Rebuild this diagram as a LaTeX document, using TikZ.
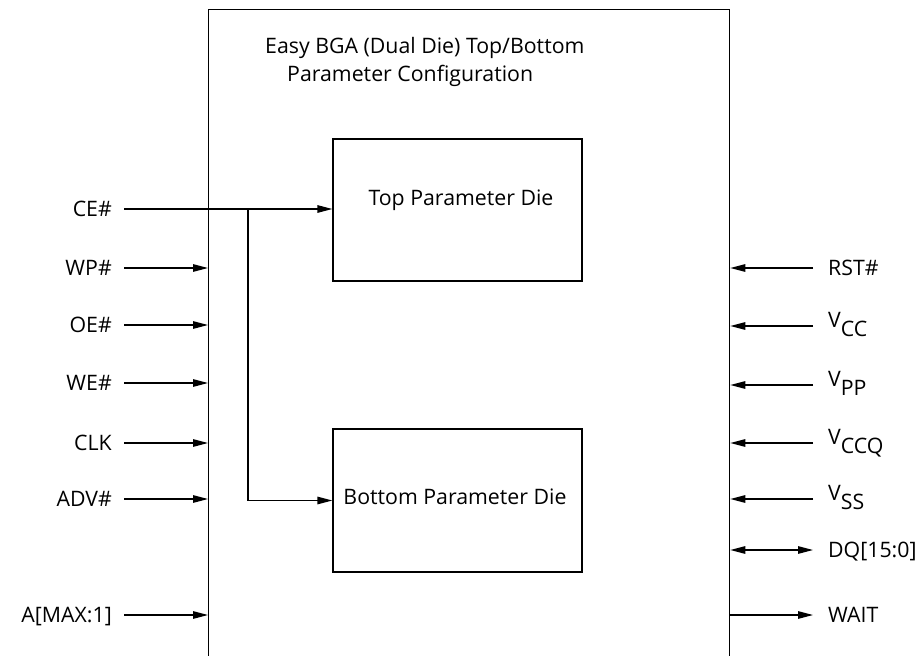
\documentclass[tikz,border=0pt]{standalone}
\usepackage{fontspec}
\setmainfont{Open Sans}
\usetikzlibrary{arrows.meta}
\begin{document}
\begin{tikzpicture}[x=1pt,y=-1pt,
  every node/.style={font=\fontsize{21.3}{25}\selectfont},
  lbl/.style={inner sep=0pt, text height=15.2pt, text depth=0pt},
  box/.style={draw, line width=1.3pt, inner sep=0pt},
  wire/.style={line width=1.3pt},
  arr/.style={wire, -{Triangle[length=15pt,width=7.5pt]}},
  darr/.style={wire, {Triangle[length=15pt,width=7.5pt]}-{Triangle[length=15pt,width=7.5pt]}}]
\clip (0,0) rectangle (919,656);
% outer package
\node[box, anchor=north west, minimum width=521pt, minimum height=700pt] (chip) at (208,9) {};
\node[lbl, anchor=west] (t1) at (265,45.5) {Easy BGA (Dual Die) Top/Bottom};
\node[lbl, anchor=west] (t2) at (287,74) {Parameter Configuration};
% dies
\node[box, minimum width=249pt, minimum height=142pt] (top) at (457.5,210) {};
\node[box, minimum width=249pt, minimum height=143pt] (bot) at (457.5,500.5) {};
\node[lbl] (toptxt) at (461,198) {Top Parameter Die};
\node[lbl] (bottxt) at (455,497) {Bottom Parameter Die};
% left pins
\node[lbl, anchor=east] (ce) at (112,209) {CE\#};
\node[lbl, anchor=east] (wp) at (112,268) {WP\#};
\node[lbl, anchor=east] (oe) at (112,325) {OE\#};
\node[lbl, anchor=east] (we) at (112,383) {WE\#};
\node[lbl, anchor=east] (clk) at (112,443) {CLK};
\node[lbl, anchor=east] (adv) at (112,499) {ADV\#};
\node[lbl, anchor=east] (amax) at (112,615) {A[MAX:1]};
\draw[arr] ([xshift=12pt]ce.east) -- (ce -| top.west);
\coordinate (br) at (248,209);
\draw[arr] (br) |- (bot.west);
\foreach \n in {wp,oe,we,clk,adv,amax}
  \draw[arr] ([xshift=12pt]\n.east) -- (\n -| chip.west);
% right pins
\node[lbl, anchor=west] (rst) at (828,268) {RST\#};
\node[lbl, anchor=west] (vcc) at (828,320) {V\raisebox{-0.42em}{CC}};
\node[lbl, anchor=west] (vpp) at (828,379) {V\raisebox{-0.42em}{PP}};
\node[lbl, anchor=west] (vccq) at (828,437) {V\raisebox{-0.42em}{CCQ}};
\node[lbl, anchor=west] (vss) at (828,493) {V\raisebox{-0.42em}{SS}};
\node[lbl, anchor=west] (dq) at (828,550) {DQ[15:0]};
\node[lbl, anchor=west] (wait) at (828,615) {WAIT};
\coordinate (pvcc) at (813,326);
\coordinate (pvpp) at (813,385);
\coordinate (pvccq) at (813,443);
\coordinate (pvss) at (813,499);
\draw[arr] ([xshift=-15pt]rst.west) -- (rst -| chip.east);
\foreach \p in {pvcc,pvpp,pvccq,pvss}
  \draw[arr] (\p) -- (\p -| chip.east);
\draw[darr] (dq -| chip.east) -- ([xshift=-15pt]dq.west);
\draw[arr] (wait -| chip.east) -- ([xshift=-15pt]wait.west);
\end{tikzpicture}
\end{document}
